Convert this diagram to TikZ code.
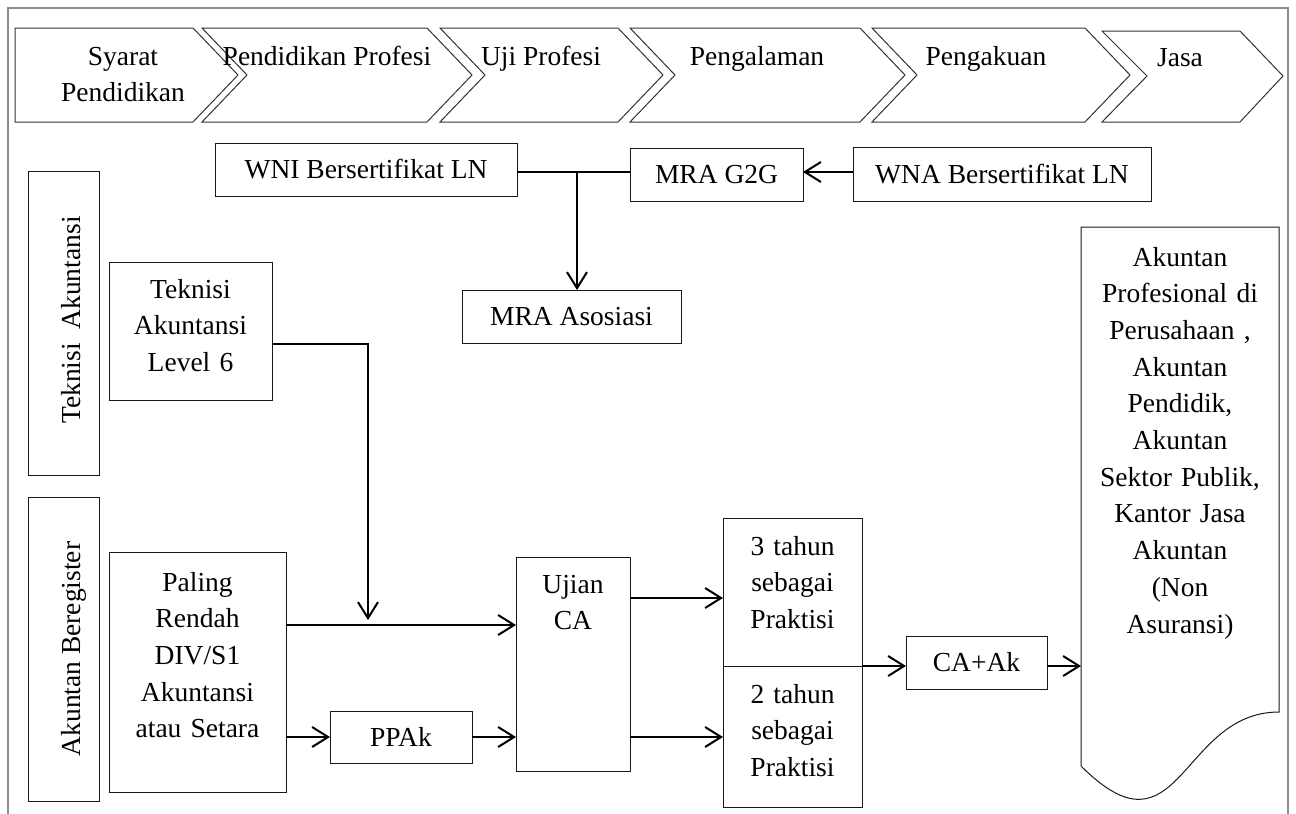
\documentclass[tikz,border=0pt]{standalone}
\usepackage{fontspec}
\setmainfont{Liberation Serif}
\usetikzlibrary{arrows.meta}
\newcommand{\dfs}{\fontsize{27.5pt}{36.7pt}\selectfont}
\begin{document}
\begin{tikzpicture}[x=1pt,y=-1pt,
 box/.style={draw=black!90,line width=1pt,inner sep=0pt,outer sep=0pt,font=\dfs,align=center},
 chev/.style={draw=black!80,line width=1pt},
 txt/.style={font=\dfs,inner sep=0pt,align=center},
 mtxt/.style={font=\dfs,inner sep=0pt,align=center,text width=240pt},
 con/.style={line width=2pt},
 arr/.style={line width=2pt,-{Straight Barb[length=16pt,width=20pt]}},
 outerframe/.style={draw=black!45,line width=1.5pt}]
\useasboundingbox (0,0) rectangle (1296,814);
\draw[outerframe] (8,814) -- (8,8) -- (1288,8) -- (1288,814);

% chevrons
\draw[chev] (15,28) -- (193,28) -- (238,75) -- (193,122) -- (15,122) -- cycle;
\draw[chev] (202,28) -- (427,28) -- (472,75) -- (427,122) -- (202,122) -- (247,75) -- cycle;
\draw[chev] (440,28) -- (618,28) -- (663,75) -- (618,122) -- (440,122) -- (485,75) -- cycle;
\draw[chev] (630,28) -- (860,28) -- (905,75) -- (860,122) -- (630,122) -- (675,75) -- cycle;
\draw[chev] (872,28) -- (1085,28) -- (1130,75) -- (1085,122) -- (872,122) -- (917,75) -- cycle;
\draw[chev] (1102,31) -- (1240,31) -- (1283,76) -- (1240,122) -- (1102,122) -- (1147,76) -- cycle;
\node[mtxt,anchor=base] (c1) at (123,65) {Syarat\\Pendidikan};
\node[txt,anchor=base] (c2) at (327,65) {Pendidikan Profesi};
\node[txt,anchor=base] (c3) at (541,65) {Uji Profesi};
\node[txt,anchor=base] (c4) at (757,65) {Pengalaman};
\node[txt,anchor=base] (c5) at (986,65) {Pengakuan};
\node[txt,anchor=base] (c6) at (1180,66) {Jasa};

% top boxes
\node[box,minimum width=302pt,minimum height=53pt] (wni) at (366,169.5) {WNI Bersertifikat LN};
\node[box,minimum width=173pt,minimum height=53pt] (g2g) at (716.5,174.5) {MRA G2G};
\node[box,minimum width=298pt,minimum height=54pt] (wna) at (1002,174) {WNA Bersertifikat LN};
\node[box,minimum width=219pt,minimum height=53pt] (mraa) at (571.5,316.5) {MRA Asosiasi};

% left column
\node[box,minimum width=71pt,minimum height=304pt] (ta) at (63.5,323) {};
\node[txt,rotate=90,anchor=base] (tat) at (80,320) {Teknisi\ \ Akuntansi};
\node[box,minimum width=71pt,minimum height=304pt] (ab) at (63.5,649) {};
\node[txt,rotate=90,anchor=base] (abt) at (80,649) {Akuntan Beregister};

\node[box,minimum width=163pt,minimum height=138pt] (tl6) at (190.5,331) {};
\node[mtxt,anchor=base] (tl6t) at (190.5,298) {Teknisi\\Akuntansi\\Level 6};
\node[box,minimum width=177pt,minimum height=240pt] (pal) at (197.5,672) {};
\node[mtxt,anchor=base] (palt) at (197.5,591) {Paling\\Rendah\\DIV/S1\\Akuntansi\\atau Setara};
\node[box,minimum width=142pt,minimum height=52pt] (ppak) at (401,737) {PPAk};
\node[box,minimum width=114pt,minimum height=214pt] (uji) at (573,664) {};
\node[mtxt,anchor=base] (ujit) at (573,593) {Ujian\\CA};
\node[box,minimum width=139pt,minimum height=148pt] (t3) at (792.5,592) {};
\node[mtxt,anchor=base] (t3t) at (792.5,555) {3 tahun\\sebagai\\Praktisi};
\node[box,minimum width=139pt,minimum height=141pt] (t2) at (792.5,736.5) {};
\node[mtxt,anchor=base] (t2t) at (792.5,703) {2 tahun\\sebagai\\Praktisi};
\node[box,minimum width=141pt,minimum height=53pt] (caak) at (976.5,662.5) {CA+Ak};

% document shape
\draw[box] (1081,227) -- (1279,227) -- (1279,712) .. controls (1180,712) and (1180,865) .. (1081,766) -- cycle;
\node[mtxt,anchor=base] (doct) at (1180,266) {Akuntan\\Profesional di\\Perusahaan ,\\Akuntan\\Pendidik,\\Akuntan\\Sektor Publik,\\Kantor Jasa\\Akuntan\\(Non\\Asuransi)};
\coordinate (docw) at (1081,666);

% connectors
\coordinate (j) at (577,172);
\draw[con] (wni.east |- j) -- (g2g.west |- j);
\draw[arr] (j) -- (j |- mraa.north);
\draw[arr] (wna.west |- j) -- (g2g.east |- j);
\coordinate (k) at (368,344);
\coordinate (kd) at (368,620);
\draw[arr] (tl6.east |- k) -- (k) -- (kd);
\coordinate (r1) at (0,625);
\draw[arr] (pal.east |- r1) -- (uji.west |- r1);
\draw[arr] (pal.east |- ppak) -- (ppak.west);
\draw[arr] (ppak.east) -- (uji.west |- ppak);
\coordinate (r2) at (0,598);
\draw[arr] (uji.east |- r2) -- (t3.west |- r2);
\draw[arr] (uji.east |- ppak) -- (t2.west |- ppak);
\draw[arr] (t3.south east) -- (caak.west |- t3.south);
\draw[arr] (caak.east |- t3.south) -- (docw);
\end{tikzpicture}
\end{document}
